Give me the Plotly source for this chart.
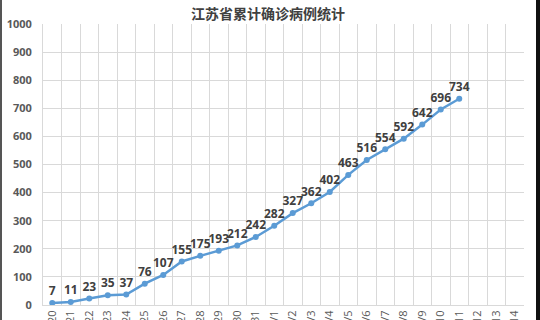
import plotly.graph_objects as go

title_text = "江苏省累计确诊病例统计"
dates = ["1/20", "1/21", "1/22", "1/23", "1/24", "1/25", "1/26", "1/27", "1/28", "1/29",
         "1/30", "1/31", "2/1", "2/2", "2/3", "2/4", "2/5", "2/6", "2/7", "2/8",
         "2/9", "2/10", "2/11", "2/12", "2/13", "2/14"]
cases = [7, 11, 23, 35, 37, 76, 107, 155, 175, 193, 212, 242, 282, 327, 362, 402,
         463, 516, 554, 592, 642, 696, 734]

y_vals = cases + [None] * (len(dates) - len(cases))
labels = [str(v) for v in cases]

W, H = 540, 320
ml, mr, mt, mb = 43, 16, 24, 15
pw, ph = W - ml - mr, H - mt - mb

fig = go.Figure()
fig.add_trace(go.Scatter(
    x=dates, y=y_vals, mode="lines+markers+text",
    text=labels + [""] * (len(dates) - len(cases)),
    textposition="top center",
    textfont=dict(family="Open Sans", size=12, color="#404040", weight="bold"),
    line=dict(color="#5B9BD5", width=2.5),
    marker=dict(color="#5B9BD5", size=6),
    cliponaxis=False,
    showlegend=False,
))

fig.update_layout(
    width=W, height=H,
    margin=dict(l=ml, r=mr, t=mt, b=mb, autoexpand=False),
    paper_bgcolor="white", plot_bgcolor="white",
    xaxis=dict(type="category", categoryarray=dates, categoryorder="array",
               range=[-0.5, len(dates) - 0.5], automargin=False,
               tickson="boundaries", showgrid=True, gridcolor="#D9D9D9", gridwidth=1,
               ticks="", tickangle=-90,
               tickfont=dict(family="Open Sans", size=11, color="#595959"),
               showline=True, linecolor="#D9D9D9", zeroline=False),
    yaxis=dict(range=[0, 1000], dtick=100, showgrid=True, gridcolor="#D9D9D9",
               gridwidth=1, zeroline=False, ticks="", ticklabelstandoff=8,
               automargin=False,
               tickfont=dict(family="Open Sans", size=11, color="#595959", weight="bold"),
               showline=True, linecolor="#D9D9D9"),
    annotations=[dict(text="<b>" + title_text + "</b>", xref="paper", yref="paper",
                      x=(268 - ml) / pw, y=1 + (mt - 1) / ph, xanchor="center",
                      yanchor="top", showarrow=False,
                      font=dict(family="Noto Sans CJK SC", size=14, color="#404040"))],
    shapes=[
        dict(type="rect", xref="paper", yref="paper",
             x0=(0 - ml) / pw, x1=(2 - ml) / pw, y0=-mb / ph, y1=1 + mt / ph,
             fillcolor="#555555", line=dict(width=0), layer="above"),
        dict(type="rect", xref="paper", yref="paper",
             x0=(536 - ml) / pw, x1=(541 - ml) / pw, y0=-mb / ph, y1=1 + mt / ph,
             fillcolor="#111111", line=dict(width=0), layer="above"),
    ],
)

fig.write_html("out.html")
